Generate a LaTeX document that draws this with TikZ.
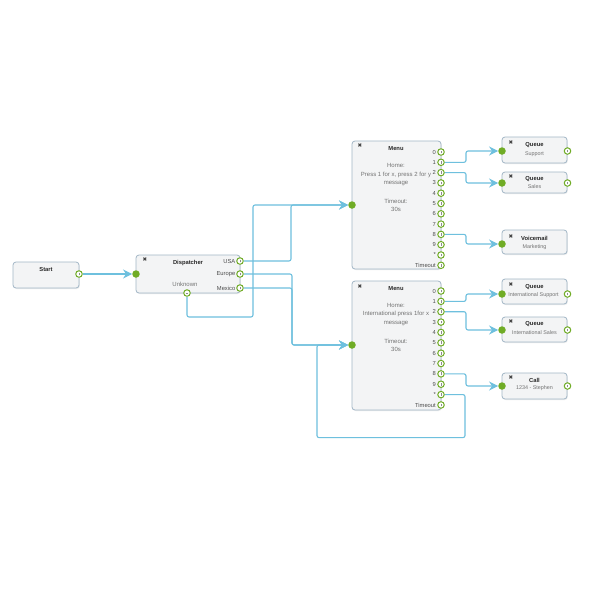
\documentclass[tikz,border=0pt]{standalone}
\usepackage{fontspec}
\setmainfont{Liberation Sans}
\newfontfamily\symfont{DejaVu Sans}
\usetikzlibrary{arrows.meta,shadows}

\definecolor{wireblue}{RGB}{110,192,222}
\definecolor{portgreen}{RGB}{112,172,38}
\definecolor{boxline}{RGB}{162,182,198}
\definecolor{boxfill}{RGB}{243,244,245}

\tikzset{
  box/.style={draw=boxline, fill=boxfill, rounded corners=3pt, line width=0.8pt,
    drop shadow={opacity=0.15, shadow xshift=0.8pt, shadow yshift=-1pt}},
  port/.style={circle, draw=portgreen, fill=white, line width=1pt, minimum size=6.5pt, inner sep=0pt,
    path picture={\draw[black!45, line width=0.4pt] ([yshift=-1.4pt]path picture bounding box.center) -- ([yshift=1.4pt]path picture bounding box.center);}},
  hport/.style={circle, draw=portgreen, fill=white, line width=1pt, minimum size=6.5pt, inner sep=0pt,
    path picture={\draw[black!45, line width=0.4pt] ([xshift=-1.4pt]path picture bounding box.center) -- ([xshift=1.4pt]path picture bounding box.center);}},
  inport/.style={circle, fill=portgreen, minimum size=7.5pt, inner sep=0pt},
  title/.style={font=\fontsize{5.8}{7}\selectfont\bfseries, text=black!85, inner sep=0pt},
  body/.style={font=\fontsize{6}{8.5}\selectfont, text=black!55, align=center, inner sep=0pt},
  sub/.style={font=\fontsize{5.4}{6}\selectfont, text=black!55, inner sep=0pt},
  portlabel/.style={font=\fontsize{5.8}{7}\selectfont, text=black!70, anchor=east, inner sep=0.5pt},
  closex/.style={font=\symfont\fontsize{5.5}{6}\selectfont, text=black!75, inner sep=0pt},
  wire/.style={draw=wireblue, line width=1.1pt, rounded corners=2pt},
  arrow/.style={wire, -{Stealth[length=9pt, width=9pt, inset=3pt]}}
}

\begin{document}
\begin{tikzpicture}[x=1pt, y=-1pt]
  \useasboundingbox[fill=white] (0,0) rectangle (595,595);

  % start
  \node[box, minimum width=66pt, minimum height=26pt] (start) at (46,275) {};
  \node[title] (start-t) at (46,269) {Start};
  \node[port] (start-out) at (79,274) {};

  % dispatcher
  \node[box, minimum width=104pt, minimum height=38pt] (disp) at (188,274) {};
  \node[closex] (disp-x) at (145,260) {✖};
  \node[title] (disp-t) at (188,263) {Dispatcher};
  \node[body] (disp-b) at (185,284) {Unknown};
  \node[inport] (disp-in) at (136,274) {};
  \node[port] (disp-usa) at (240,261) {};
  \node[port] (disp-eur) at (240,274) {};
  \node[port] (disp-mex) at (240,288) {};
  \node[hport] (disp-unk) at (187,293) {};
  \node[portlabel] (disp-lusa) at (236,261) {USA};
  \node[portlabel] (disp-leur) at (236,274) {Europe};
  \node[portlabel] (disp-lmex) at (236,288) {Mexico};

  % menu, home
  \node[box, minimum width=89pt, minimum height=128pt] (menua) at (396.5,205) {};
  \node[closex] (menua-x) at (360,146) {✖};
  \node[title] (menua-t) at (396,149) {Menu};
  \node[body] (menua-b) at (396,175) {Home:\\Press 1 for x, press 2 for y\\message};
  \node[body] (menua-o) at (396,205.5) {Timeout:\\30s};
  \node[inport] (menua-in) at (352,205) {};
  \foreach \lab [count=\i from 0] in {0,1,2,3,4,5,6,7,8,9,*,Timeout} {
    \node[port] (menua-p\i) at (441,{152+10.3*\i}) {};
    \node[portlabel] (menua-l\i) at (436.5,{152+10.3*\i}) {\lab};
  }

  % menu, international
  \node[box, minimum width=89pt, minimum height=129pt] (menub) at (396.5,345.5) {};
  \node[closex] (menub-x) at (360,287) {✖};
  \node[title] (menub-t) at (396,289) {Menu};
  \node[body] (menub-b) at (396,314.5) {Home:\\International press 1for x\\message};
  \node[body] (menub-o) at (396,345.5) {Timeout:\\30s};
  \node[inport] (menub-in) at (352,345) {};
  \foreach \lab [count=\i from 0] in {0,1,2,3,4,5,6,7,8,9,*,Timeout} {
    \node[port] (menub-p\i) at (441,{291+10.36*\i}) {};
    \node[portlabel] (menub-l\i) at (436.5,{291+10.36*\i}) {\lab};
  }

  % targets
  \node[box, minimum width=65pt, minimum height=26pt] (qsup) at (534.5,150) {};
  \node[closex] (qsup-x) at (511,143) {✖};
  \node[title] (qsup-t) at (534.5,145.5) {Queue};
  \node[sub] (qsup-b) at (534.5,154) {Support};
  \node[inport] (qsup-in) at (502,151) {};
  \node[port] (qsup-out) at (567.5,151) {};

  \node[box, minimum width=65pt, minimum height=21pt] (qsal) at (534.5,182.5) {};
  \node[closex] (qsal-x) at (511,177) {✖};
  \node[title] (qsal-t) at (534.5,179) {Queue};
  \node[sub] (qsal-b) at (534.5,187) {Sales};
  \node[inport] (qsal-in) at (502,183) {};
  \node[port] (qsal-out) at (567.5,183) {};

  \node[box, minimum width=65pt, minimum height=24pt] (vm) at (534.5,242) {};
  \node[closex] (vm-x) at (511,237) {✖};
  \node[title] (vm-t) at (534.5,238) {Voicemail};
  \node[sub] (vm-b) at (534.5,247) {Marketing};
  \node[inport] (vm-in) at (502,244) {};

  \node[box, minimum width=65pt, minimum height=25pt] (isup) at (534.5,291.5) {};
  \node[closex] (isup-x) at (511,285) {✖};
  \node[title] (isup-t) at (534.5,287) {Queue};
  \node[sub] (isup-b) at (533.5,295.5) {International Support};
  \node[inport] (isup-in) at (502,294) {};
  \node[port] (isup-out) at (567.5,294) {};

  \node[box, minimum width=65pt, minimum height=25pt] (isal) at (534.5,329.5) {};
  \node[closex] (isal-x) at (511,322) {✖};
  \node[title] (isal-t) at (534.5,324) {Queue};
  \node[sub] (isal-b) at (534.5,332.5) {International Sales};
  \node[inport] (isal-in) at (502,330) {};
  \node[port] (isal-out) at (567.5,330) {};

  \node[box, minimum width=65pt, minimum height=26pt] (call) at (534.5,386) {};
  \node[closex] (call-x) at (511,378) {✖};
  \node[title] (call-t) at (534.5,380) {Call};
  \node[sub] (call-b) at (534.5,388.5) {1234 - Stephen};
  \node[inport] (call-in) at (502,386) {};
  \node[port] (call-out) at (567.5,386) {};

  % wires
  \draw[arrow] (start-out) -- (disp-in);
  \draw[arrow] (disp-usa) -- ++(51,0) |- (menua-in);
  \draw[arrow] (disp-eur) -- ++(52,0) |- (menub-in);
  \draw[arrow] (disp-mex) -- ++(52,0) |- (menub-in);
  \draw[arrow] (disp-unk) |- ++(66,24) |- (menua-in);
  \draw[arrow] (menua-p1) -- ++(25,0) |- (qsup-in);
  \draw[arrow] (menua-p2) -- ++(25,0) |- (qsal-in);
  \draw[arrow] (menua-p8) -- ++(25,0) |- (vm-in);
  \draw[arrow] (menub-p1) -- ++(25,0) |- (isup-in);
  \draw[arrow] (menub-p2) -- ++(25,0) |- (isal-in);
  \draw[arrow] (menub-p8) -- ++(25,0) |- (call-in);
  \draw[arrow] (menub-p10) -- ++(24,0) |- ++(-148,43) |- (menub-in);
\end{tikzpicture}
\end{document}
